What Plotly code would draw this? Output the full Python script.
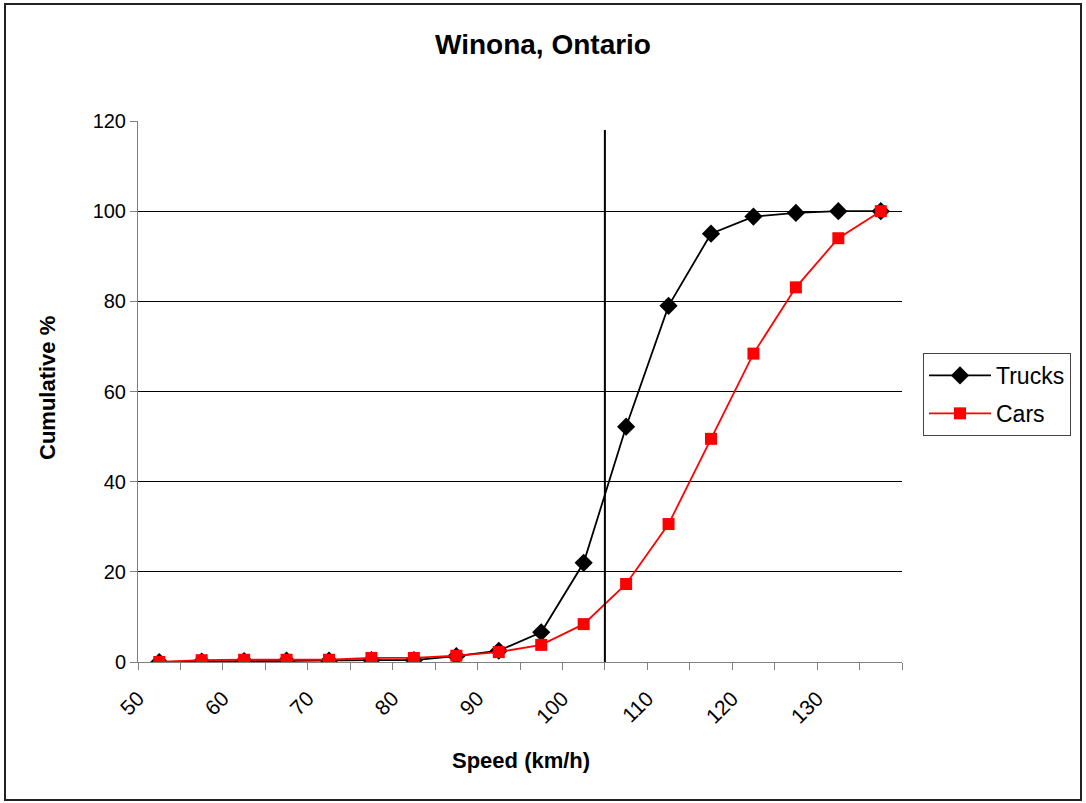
import plotly.graph_objects as go

# Data: speed bin midpoints (km/h) and cumulative percentages
speed = [52.5, 57.5, 62.5, 67.5, 72.5, 77.5, 82.5, 87.5, 92.5, 97.5,
         102.5, 107.5, 112.5, 117.5, 122.5, 127.5, 132.5, 137.5]
trucks = [0.0, 0.1, 0.2, 0.3, 0.3, 0.4, 0.4, 1.3, 2.5, 6.6,
          22.0, 52.2, 79.0, 95.0, 98.8, 99.6, 100.0, 100.0]
cars = [0.0, 0.4, 0.5, 0.5, 0.5, 0.9, 0.9, 1.4, 2.2, 3.8,
        8.4, 17.3, 30.6, 49.5, 68.4, 83.1, 94.0, 100.0]

x_labels = [50, 60, 70, 80, 90, 100, 110, 120, 130]
x_minor = list(range(50, 145, 5))
y_ticks = [0, 20, 40, 60, 80, 100, 120]
y_grid = [20, 40, 60, 80, 100]
ref_speed = 105
ref_top = 118

FONT = "Liberation Sans, Arial, sans-serif"

fig = go.Figure()
fig.add_trace(go.Scatter(
    x=speed, y=trucks, name="Trucks", mode="lines+markers", legendgroup="t",
    line=dict(color="black", width=1.8),
    marker=dict(symbol="diamond", size=14, color="black"),
))
fig.add_trace(go.Scatter(
    x=speed, y=cars, name="Cars", mode="lines+markers", legendgroup="c",
    line=dict(color="#ff0000", width=1.8),
    marker=dict(symbol="square", size=12, color="#ff0000"),
))

fig.add_shape(type="line", xref="x", yref="y", x0=ref_speed, x1=ref_speed,
              y0=0, y1=ref_top, line=dict(color="black", width=2))

# chart border
fig.add_shape(type="rect", xref="paper", yref="paper",
              x0=(5 - 138) / 764, x1=(1081 - 138) / 764,
              y0=(662 - 800) / 541, y1=(662 - 4) / 541,
              line=dict(color="#222222", width=2), layer="below")

fig.update_layout(
    width=1086, height=803,
    margin=dict(l=138, r=184, t=121, b=141),
    paper_bgcolor="white", plot_bgcolor="white",
    font=dict(family=FONT, color="black", size=20),
    title=dict(text="<b>Winona, Ontario</b>", x=0.5, xanchor="center",
               y=1 - 44 / 803, yanchor="middle",
               font=dict(size=28, family=FONT, color="black")),
    showlegend=True,
    legend=dict(x=(923 - 138) / 764, y=(662 - 353) / 541,
                xanchor="left", yanchor="top", itemwidth=62,
                tracegroupgap=5, traceorder="grouped",
                bordercolor="#444444", borderwidth=1, bgcolor="white",
                font=dict(size=23, family=FONT)),
    xaxis=dict(range=[50, 140], tickvals=x_labels,
               ticktext=[str(v) for v in x_labels],
               tickangle=-45, ticks="outside", ticklen=7, tickcolor="#808080",
               ticklabelstandoff=8,
               showline=True, linecolor="#808080", linewidth=1,
               showgrid=False, zeroline=False,
               minor=dict(tickvals=x_minor, ticks="outside", ticklen=7,
                          tickcolor="#808080", showgrid=False),
               tickfont=dict(size=21)),
    yaxis=dict(range=[0, 120], tickvals=y_ticks, ticks="outside", ticklen=7,
               tickcolor="#808080", showline=True, linecolor="#808080",
               linewidth=1, showgrid=False, zeroline=False,
               minor=dict(tickvals=y_grid, showgrid=True, gridcolor="black",
                          gridwidth=1, ticks=""),
               tickfont=dict(size=20)),
    annotations=[
        dict(text="<b>Speed (km/h)</b>", xref="paper", yref="paper",
             x=(521 - 138) / 764, y=(662 - 760) / 541,
             xanchor="center", yanchor="middle", showarrow=False,
             font=dict(size=22, family=FONT)),
        dict(text="<b>Cumulative %</b>", xref="paper", yref="paper",
             x=(47 - 138) / 764, y=(662 - 388) / 541, textangle=-90,
             xanchor="center", yanchor="middle", showarrow=False,
             font=dict(size=22, family=FONT)),
    ],
)

fig.write_html("out.html", config={"displayModeBar": False},
               post_script="document.body.style.margin='0px';")
